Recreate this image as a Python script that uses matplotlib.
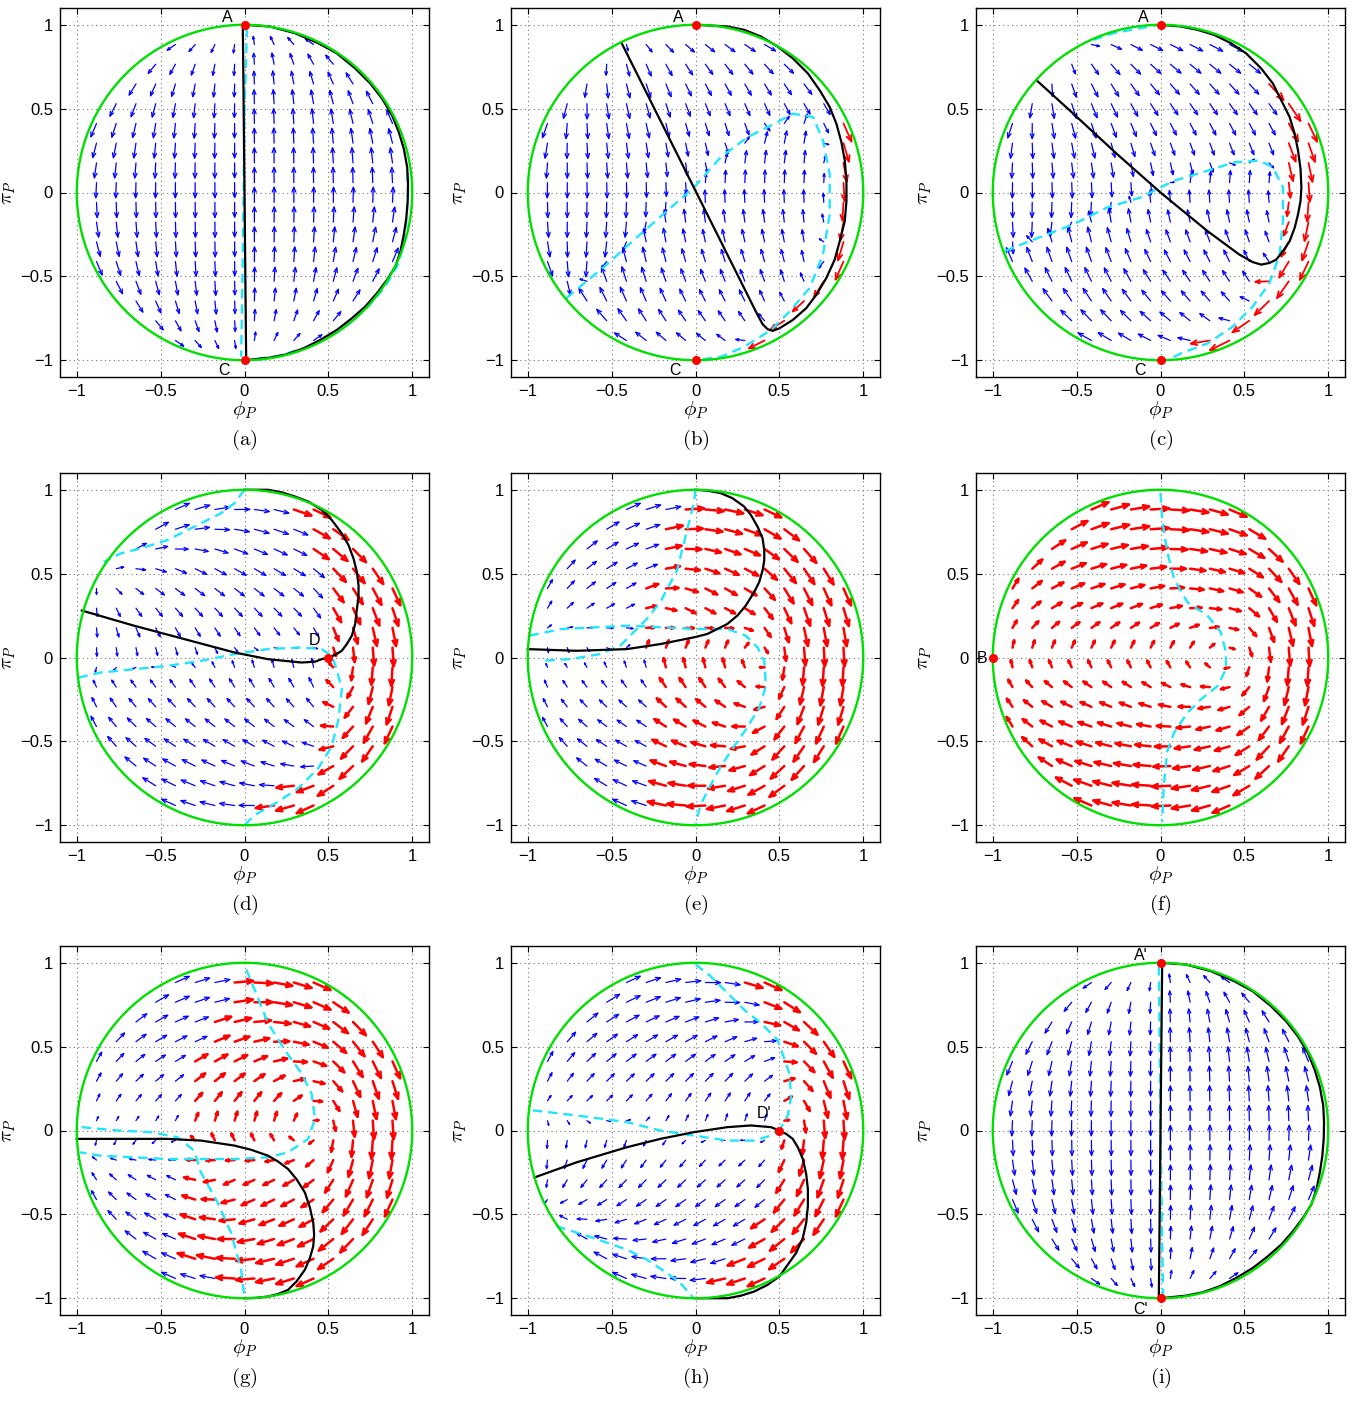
import numpy as np
import matplotlib
matplotlib.use("Agg")
import matplotlib.pyplot as plt
from matplotlib.path import Path
from matplotlib.patches import Circle
from matplotlib.collections import LineCollection

plt.rcParams["font.family"] = ["Liberation Sans", "DejaVu Sans"]
plt.rcParams["mathtext.fontset"] = "cm"

# ---------------------------------------------------------------- data
GRID = np.linspace(-1, 1, 18)
TICKS = [-1, -0.5, 0, 0.5, 1]
TICK_LABELS = ["\u22121", "\u22120.5", "0", "0.5", "1"]
CAPTIONS = ["(a)", "(b)", "(c)", "(d)", "(e)", "(f)", "(g)", "(h)", "(i)"]

# field parameters per panel: (k, q0, qr, xr, ql, xl, delta, p)
PAR_A = (0.0, 1.0, 0.0, 0.0, 0.0, 0.0, 0.03, 3)
PAR_B = (0.6, 0.8, 0.0, 0.0, 1.0, 0.0, 0.06, 6)
PAR_C = (1.0, 0.8, 0.0, 0.0, 1.0, 0.0, 0.06, 6)
PAR_D = (3.0, 1.0, 3.0, 0.3, 0.0, 0.0, 0.15, 4)
PAR_E = (2.5, 0.7, 5.0, 0.3, 0.0, 0.0, 0.20, 4)
PAR_F = (2.5, 0.3, 5.0, 0.45, 0.0, 0.0, 0.20, 4)
PAR_G = (2.5, 0.6, 5.0, 0.4, 0.0, 0.0, 0.20, 4)
PAR_H = (2.5, 0.8, 4.0, 0.4, 0.0, 0.0, 0.20, 4)
PAR_I = (0.0, 1.0, 0.0, 0.0, 0.0, 0.0, 0.03, 3)

# ---- (a)
CYAN_A = [[(0.015, 0.98), (0.0, 0.5), (-0.005, 0.0), (-0.012, -0.5), (-0.02, -0.98)],
          [(0.97, 0.12), (0.975, 0.0), (0.96, -0.25), (0.92, -0.42), (0.84, -0.56), (0.72, -0.7),
           (0.56, -0.83), (0.38, -0.92), (0.2, -0.975), (0.05, -0.995)]]
BLACK_A = [[(-0.01, 1.0), (0.01, -1.0)],
           [(0.0, 1.0), (0.15, 0.99), (0.3, 0.95), (0.44, 0.89), (0.55, 0.83), (0.66, 0.74),
            (0.75, 0.65), (0.82, 0.56), (0.88, 0.46), (0.92, 0.36), (0.95, 0.26), (0.97, 0.15),
            (0.975, 0.05), (0.973, -0.05), (0.965, -0.15), (0.95, -0.25), (0.93, -0.35),
            (0.9, -0.44), (0.85, -0.52), (0.79, -0.6), (0.72, -0.68), (0.64, -0.75),
            (0.55, -0.82), (0.45, -0.88), (0.35, -0.93), (0.25, -0.965), (0.15, -0.985),
            (0.0, -1.0)]]
POS_A = [[(0.0, 1.5), (1.5, 1.5), (1.5, -1.5), (0.0, -1.5)]]
RED_A = [[(0.9, 0.12), (1.1, 0.12), (1.1, -0.32), (0.9, -0.32)]]
DOTS_A = [(0.0, 1.0), (0.0, -1.0)]
LABELS_A = ["A", "C"]
LABEL_XY_A = [(-0.1, 1.045), (-0.12, -1.06)]

# ---- (b)
CYAN_B = [[(-0.77, -0.63), (-0.53, -0.43), (-0.33, -0.25), (-0.17, -0.11), (-0.01, 0.03),
           (0.15, 0.21), (0.31, 0.33), (0.47, 0.41), (0.58, 0.47), (0.7, 0.45), (0.76, 0.31),
           (0.8, 0.11), (0.8, -0.13), (0.76, -0.37), (0.68, -0.57), (0.56, -0.71), (0.45, -0.82),
           (0.29, -0.92), (0.15, -0.98), (0.0, -1.0)]]
BLACK_B = [[(-0.44, 0.89), (0.0, 0.01), (0.37, -0.73), (0.4, -0.785), (0.43, -0.815),
            (0.46, -0.825), (0.5, -0.81), (0.58, -0.76), (0.66, -0.69), (0.72, -0.61),
            (0.78, -0.51), (0.83, -0.4), (0.86, -0.29), (0.89, -0.17), (0.9, -0.05),
            (0.9, 0.07), (0.89, 0.19), (0.87, 0.3), (0.84, 0.41), (0.8, 0.51), (0.74, 0.61),
            (0.67, 0.71), (0.58, 0.8), (0.49, 0.87), (0.39, 0.93), (0.29, 0.97), (0.19, 0.99),
            (0.0, 1.0)]]
POS_B = [CYAN_B[0] + [(0.0, -1.5), (-1.5, -1.5), (-1.5, -1.0), (-1.0, -0.82)]]
RED_B = [[(0.45, 1.1), (0.47, 0.87), (0.62, 0.76), (0.8, 0.5), (0.83, 0.0), (0.8, -0.45),
          (0.6, -0.68), (0.38, -0.85), (0.22, -0.92), (0.2, -1.1), (1.1, -1.1), (1.1, 1.1)]]
DOTS_B = [(0.0, 1.0), (0.0, -1.0)]
LABELS_B = ["A", "C"]
LABEL_XY_B = [(-0.1, 1.045), (-0.12, -1.06)]

# ---- (c)
CYAN_C = [[(-0.93, -0.35), (-0.78, -0.29), (-0.52, -0.19), (-0.32, -0.09), (-0.12, -0.03),
           (0.08, 0.07), (0.28, 0.13), (0.44, 0.18), (0.59, 0.19), (0.67, 0.15), (0.73, 0.03),
           (0.73, -0.17), (0.71, -0.37), (0.65, -0.54), (0.55, -0.68), (0.43, -0.8),
           (0.28, -0.9), (0.12, -0.96), (0.04, -1.0)],
          [(-0.4, 0.91), (-0.28, 0.95), (-0.12, 0.98), (0.0, 1.0)]]
BLACK_C = [[(-0.74, 0.67), (-0.52, 0.47), (-0.26, 0.23), (0.0, 0.0), (0.28, -0.23),
            (0.47, -0.37), (0.55, -0.415), (0.6, -0.43), (0.65, -0.42), (0.69, -0.4),
            (0.73, -0.35), (0.77, -0.29), (0.8, -0.21), (0.82, -0.13), (0.835, -0.05),
            (0.84, 0.03), (0.835, 0.14), (0.82, 0.25), (0.8, 0.35), (0.77, 0.45), (0.72, 0.55),
            (0.67, 0.65), (0.6, 0.74), (0.51, 0.83), (0.42, 0.89), (0.32, 0.94), (0.22, 0.97),
            (0.12, 0.99), (0.0, 1.0)]]
POS_C = [CYAN_C[0] + [(0.0, -1.5), (-1.5, -1.5), (-1.5, -0.4)]]
RED_C = [[(0.45, 1.1), (0.47, 0.87), (0.57, 0.72), (0.7, 0.52), (0.7, -0.4), (0.6, -0.62),
          (0.42, -0.8), (0.22, -0.92), (0.2, -1.1), (1.1, -1.1), (1.1, 1.1)]]
DOTS_C = [(0.0, 1.0), (0.0, -1.0)]
LABELS_C = ["A", "C"]
LABEL_XY_C = [(-0.1, 1.045), (-0.12, -1.06)]

# ---- (d)
CYAN_D = [[(0.0, 1.0), (-0.06, 0.92), (-0.14, 0.86), (-0.26, 0.8), (-0.34, 0.76), (-0.46, 0.7),
           (-0.62, 0.65), (-0.74, 0.62), (-0.84, 0.57)],
          [(-0.99, -0.12), (-0.86, -0.09), (-0.66, -0.07), (-0.46, -0.05), (-0.26, -0.02),
           (-0.06, 0.02), (0.14, 0.05), (0.34, 0.06), (0.46, 0.05), (0.52, 0.01), (0.55, -0.07),
           (0.58, -0.19), (0.56, -0.37), (0.52, -0.53), (0.44, -0.66), (0.32, -0.78),
           (0.2, -0.86), (0.06, -0.94), (0.0, -1.0)]]
BLACK_D = [[(-0.97, 0.28), (-0.66, 0.19), (-0.36, 0.11), (-0.06, 0.03), (0.14, -0.01),
            (0.34, -0.03), (0.42, -0.025), (0.46, -0.01), (0.5, 0.0), (0.54, 0.015),
            (0.58, 0.04), (0.61, 0.08), (0.64, 0.13), (0.66, 0.2), (0.67, 0.29), (0.68, 0.36),
            (0.68, 0.43), (0.67, 0.51), (0.65, 0.59), (0.62, 0.67), (0.58, 0.74), (0.52, 0.82),
            (0.46, 0.88), (0.38, 0.93), (0.3, 0.96), (0.22, 0.985), (0.14, 1.0), (0.0, 1.0)]]
POS_D = [[(0.0, 1.5)] + CYAN_D[0] + [(-1.5, 0.75), (-1.5, 1.5)],
         [(-1.5, -0.12)] + CYAN_D[1] + [(0.0, -1.5), (-1.5, -1.5)]]
RED_D = [[(0.25, 1.1), (0.25, 0.85), (0.35, 0.8), (0.35, 0.58), (0.47, 0.55), (0.47, -0.6),
          (0.36, -0.7), (0.25, -0.8), (0.12, -0.9), (0.1, -1.1), (1.1, -1.1), (1.1, 1.1)]]
DOTS_D = [(0.5, 0.0)]
LABELS_D = ["D"]
LABEL_XY_D = [(0.42, 0.1)]

# ---- (e)
CYAN_E = [[(0.0, 1.0), (-0.01, 0.92), (-0.05, 0.76), (-0.11, 0.52), (-0.21, 0.33),
           (-0.29, 0.23), (-0.37, 0.15), (-0.45, 0.07), (-0.57, 0.02), (-0.75, -0.01),
           (-0.93, -0.02)],
          [(-0.99, 0.13), (-0.8, 0.17), (-0.6, 0.18), (-0.4, 0.19), (-0.2, 0.18), (0.0, 0.17),
           (0.19, 0.17), (0.3, 0.13), (0.37, 0.06), (0.41, -0.02), (0.42, -0.17), (0.38, -0.3),
           (0.3, -0.43), (0.23, -0.53), (0.15, -0.65), (0.08, -0.78), (0.03, -0.88),
           (0.0, -0.99)]]
BLACK_E = [[(-1.0, 0.05), (-0.71, 0.04), (-0.41, 0.05), (-0.21, 0.08), (-0.01, 0.12),
            (0.07, 0.14), (0.13, 0.17), (0.19, 0.2), (0.25, 0.25), (0.3, 0.31), (0.35, 0.39),
            (0.38, 0.45), (0.4, 0.52), (0.41, 0.58), (0.41, 0.64), (0.4, 0.71), (0.37, 0.78),
            (0.33, 0.85), (0.29, 0.9), (0.22, 0.95), (0.15, 0.98), (0.07, 0.995), (0.0, 1.0)]]
POS_E = [[(0.0, 1.5), (0.0, 1.0), (-0.01, 0.92), (-0.05, 0.76), (-0.11, 0.52), (-0.21, 0.33),
          (-0.29, 0.23), (-0.33, 0.19), (-0.4, 0.19), (-0.6, 0.18), (-0.8, 0.17), (-0.99, 0.13),
          (-1.5, 0.13), (-1.5, 1.5)],
         [(-1.5, -0.02), (-0.93, -0.02), (-0.75, -0.01), (-0.57, 0.02), (-0.45, 0.07),
          (-0.37, 0.15), (-0.33, 0.19), (-0.2, 0.18), (0.0, 0.17), (0.19, 0.17), (0.3, 0.13),
          (0.37, 0.06), (0.41, -0.02), (0.42, -0.17), (0.38, -0.3), (0.3, -0.43), (0.23, -0.53),
          (0.15, -0.65), (0.08, -0.78), (0.03, -0.88), (0.0, -0.99), (0.0, -1.5), (-1.5, -1.5)]]
RED_E = [[(-0.1, 1.1), (-0.1, 0.85), (-0.22, 0.8), (-0.22, 0.55), (-0.34, 0.5), (-0.34, 0.0),
          (-0.24, -0.05), (-0.24, -0.8), (-0.2, -1.1), (1.1, -1.1), (1.1, 1.1)]]
DOTS_E = []
LABELS_E = []
LABEL_XY_E = []

# ---- (f)
CYAN_F = [[(0.0, 0.98), (0.01, 0.82), (0.04, 0.63), (0.08, 0.47), (0.16, 0.33), (0.28, 0.25),
           (0.36, 0.15), (0.39, 0.03), (0.39, -0.07), (0.34, -0.17), (0.24, -0.25), (0.16, -0.33),
           (0.08, -0.45), (0.04, -0.56), (0.02, -0.76), (0.01, -0.98)]]
BLACK_F = []
POS_F = [[(0.0, 1.5)] + CYAN_F[0] + [(0.0, -1.5), (-1.5, -1.5), (-1.5, 1.5)]]
RED_F = [[(-1.2, -1.2), (1.2, -1.2), (1.2, 1.2), (-1.2, 1.2)]]
DOTS_F = [(-1.0, 0.0)]
LABELS_F = ["B"]
LABEL_XY_F = [(-1.065, -0.005)]

# ---- (g)
CYAN_G = [[(0.01, 0.96), (0.06, 0.84), (0.14, 0.64), (0.24, 0.48), (0.34, 0.34), (0.4, 0.22),
           (0.42, 0.07), (0.38, -0.05), (0.26, -0.13), (0.14, -0.16), (-0.06, -0.17),
           (-0.26, -0.17), (-0.46, -0.17), (-0.66, -0.16), (-0.86, -0.15), (-0.98, -0.13)],
          [(-0.97, 0.02), (-0.76, 0.0), (-0.56, -0.01), (-0.4, -0.04), (-0.3, -0.12),
           (-0.26, -0.25), (-0.16, -0.43), (-0.08, -0.61), (-0.02, -0.83), (0.0, -1.0)]]
BLACK_G = [[(-1.0, -0.05), (-0.76, -0.05), (-0.46, -0.05), (-0.26, -0.06), (-0.06, -0.09),
            (0.04, -0.115), (0.14, -0.15), (0.2, -0.185), (0.26, -0.23), (0.31, -0.29),
            (0.36, -0.37), (0.39, -0.46), (0.41, -0.55), (0.415, -0.62), (0.41, -0.69),
            (0.39, -0.76), (0.36, -0.83), (0.31, -0.9), (0.26, -0.95), (0.2, -0.975),
            (0.14, -0.99), (0.07, -0.998), (0.0, -1.0)]]
POS_G = [[(0.0, 1.5), (0.01, 0.96), (0.06, 0.84), (0.14, 0.64), (0.24, 0.48), (0.34, 0.34),
          (0.4, 0.22), (0.42, 0.07), (0.38, -0.05), (0.26, -0.13), (0.14, -0.16), (-0.06, -0.17),
          (-0.28, -0.17), (-0.3, -0.12), (-0.4, -0.04), (-0.56, -0.01), (-0.76, 0.0),
          (-0.97, 0.02), (-1.5, 0.02), (-1.5, 1.5)],
         [(-1.5, -0.13), (-0.98, -0.13), (-0.86, -0.15), (-0.66, -0.16), (-0.46, -0.17),
          (-0.28, -0.17), (-0.26, -0.25), (-0.16, -0.43), (-0.08, -0.61), (-0.02, -0.83),
          (0.0, -1.0), (0.0, -1.5), (-1.5, -1.5)]]
RED_G = [[(-0.1, 1.1), (-0.1, 0.78), (-0.22, 0.72), (-0.22, 0.55), (-0.34, 0.5), (-0.34, -0.8),
          (-0.24, -0.85), (-0.1, -0.9), (-0.1, -1.1), (1.1, -1.1), (1.1, 1.1)]]
DOTS_G = []
LABELS_G = []
LABEL_XY_G = []

# ---- (h)
CYAN_H = [[(0.0, 0.99), (0.09, 0.92), (0.19, 0.82), (0.29, 0.72), (0.39, 0.64), (0.49, 0.54),
           (0.56, 0.34), (0.57, 0.2), (0.55, 0.09), (0.5, 0.0)],
          [(-0.97, 0.12), (-0.71, 0.09), (-0.41, 0.05), (-0.21, 0.0), (-0.01, -0.03),
           (0.19, -0.06), (0.35, -0.06), (0.45, -0.03), (0.5, 0.0)],
          [(-0.83, -0.57), (-0.61, -0.64), (-0.41, -0.71), (-0.29, -0.77), (-0.17, -0.85),
           (-0.09, -0.91), (-0.01, -1.0)]]
BLACK_H = [[(-0.96, -0.28), (-0.71, -0.19), (-0.41, -0.1), (-0.21, -0.05), (-0.01, -0.01),
            (0.19, 0.02), (0.33, 0.03), (0.45, 0.02), (0.5, 0.0), (0.54, -0.02), (0.58, -0.05),
            (0.61, -0.1), (0.64, -0.17), (0.66, -0.26), (0.67, -0.35), (0.67, -0.45),
            (0.66, -0.55), (0.64, -0.64), (0.6, -0.73), (0.55, -0.8), (0.5, -0.87),
            (0.43, -0.92), (0.35, -0.96), (0.27, -0.985), (0.19, -1.0), (0.0, -1.0)]]
POS_H = [[(0.0, 1.5)] + CYAN_H[0] + [(0.45, -0.03), (0.35, -0.06), (0.19, -0.06), (-0.01, -0.03),
                                     (-0.21, 0.0), (-0.41, 0.05), (-0.71, 0.09), (-0.97, 0.12),
                                     (-1.5, 0.12), (-1.5, 1.5)],
         [(-1.5, -0.57)] + CYAN_H[2] + [(0.0, -1.5), (-1.5, -1.5)]]
RED_H = [[(0.25, 1.1), (0.25, 0.85), (0.36, 0.8), (0.36, 0.58), (0.47, 0.55), (0.47, -0.45),
          (0.36, -0.5), (0.36, -0.7), (0.24, -0.72), (0.24, -0.83), (0.12, -0.85),
          (0.12, -1.1), (1.1, -1.1), (1.1, 1.1)]]
DOTS_H = [(0.5, 0.0)]
LABELS_H = ["D'"]
LABEL_XY_H = [(0.41, 0.1)]

# ---- (i)
CYAN_I = [[(-0.01, 0.98), (-0.005, 0.5), (0.0, 0.0), (0.008, -0.5), (0.015, -0.98)]]
BLACK_I = [[(0.01, 1.0), (-0.01, -1.0)], BLACK_A[1]]
POS_I = [[(0.0, 1.5), (1.5, 1.5), (1.5, -1.5), (0.0, -1.5)]]
RED_I = [[(0.9, 0.12), (1.1, 0.12), (1.1, -0.32), (0.9, -0.32)]]
DOTS_I = [(0.0, 1.0), (0.0, -1.0)]
LABELS_I = ["A'", "C'"]
LABEL_XY_I = [(-0.12, 1.045), (-0.12, -1.07)]

PANELS = [
    (CYAN_A, BLACK_A, POS_A, RED_A, PAR_A, DOTS_A, LABELS_A, LABEL_XY_A),
    (CYAN_B, BLACK_B, POS_B, RED_B, PAR_B, DOTS_B, LABELS_B, LABEL_XY_B),
    (CYAN_C, BLACK_C, POS_C, RED_C, PAR_C, DOTS_C, LABELS_C, LABEL_XY_C),
    (CYAN_D, BLACK_D, POS_D, RED_D, PAR_D, DOTS_D, LABELS_D, LABEL_XY_D),
    (CYAN_E, BLACK_E, POS_E, RED_E, PAR_E, DOTS_E, LABELS_E, LABEL_XY_E),
    (CYAN_F, BLACK_F, POS_F, RED_F, PAR_F, DOTS_F, LABELS_F, LABEL_XY_F),
    (CYAN_G, BLACK_G, POS_G, RED_G, PAR_G, DOTS_G, LABELS_G, LABEL_XY_G),
    (CYAN_H, BLACK_H, POS_H, RED_H, PAR_H, DOTS_H, LABELS_H, LABEL_XY_H),
    (CYAN_I, BLACK_I, POS_I, RED_I, PAR_I, DOTS_I, LABELS_I, LABEL_XY_I),
]

# red-arrow style per panel (length, linewidth): long/thin in (b),(c), short/bold elsewhere
RED_STYLE = [(0.11, 1.6), (0.14, 1.3), (0.14, 1.3), (0.11, 1.8), (0.11, 1.8),
             (0.11, 1.8), (0.11, 1.8), (0.11, 1.8), (0.11, 1.6)]


# ---------------------------------------------------------------- helpers
def build_field(cyan, pos, par):
    k, q0, qr, xr, ql, xl, delta, p = par
    X, Y = np.meshgrid(GRID, GRID)
    x, y = X.ravel(), Y.ravel()
    r = np.hypot(x, y)
    keep = r < 1.0
    x, y, r = x[keep], y[keep], r[keep]
    pts = np.stack([x, y], 1)
    segs = []
    for c in cyan:
        c = np.asarray(c, float)
        for p0, p1 in zip(c[:-1], c[1:]):
            if np.hypot(*p0) > 0.95 and np.hypot(*p1) > 0.95:
                continue
            segs.append((p0, p1))
    segs = np.array(segs)
    P0, D = segs[:, 0], segs[:, 1] - segs[:, 0]
    rel = pts[:, None, :] - P0[None]
    t = np.clip((rel * D[None]).sum(-1) / (D ** 2).sum(-1)[None], 0, 1)
    diff = rel - t[..., None] * D[None]
    d = np.sqrt((diff ** 2).sum(-1)).min(1)
    inside = np.zeros(len(x), bool)
    for poly in pos:
        inside |= Path(np.asarray(poly, float)).contains_points(pts)
    sd = np.where(inside, d, -d)
    M = q0 + qr * np.maximum(0, x - xr) + ql * np.maximum(0, xl - x)
    Q = np.tanh(sd / delta) * M
    P = k * y
    nx, ny = x / np.maximum(r, 1e-9), y / np.maximum(r, 1e-9)
    vn = P * nx + Q * ny
    w = r ** p
    U = P - w * vn * nx
    V = Q - w * vn * ny
    return x, y, U, V


def arrow_segments(x, y, ux, uy, length):
    tx, ty = x + ux * length, y + uy * length
    h = 0.34 * length
    a = np.deg2rad(22)
    bx, by = -ux, -uy
    h1x = tx + h * (bx * np.cos(a) - by * np.sin(a))
    h1y = ty + h * (bx * np.sin(a) + by * np.cos(a))
    h2x = tx + h * (bx * np.cos(-a) - by * np.sin(-a))
    h2y = ty + h * (bx * np.sin(-a) + by * np.cos(-a))
    segs = []
    for i in range(len(x)):
        segs.append([(x[i], y[i]), (tx[i], ty[i])])
        segs.append([(h1x[i], h1y[i]), (tx[i], ty[i]), (h2x[i], h2y[i])])
    return segs


# ---------------------------------------------------------------- figure
W, H = 1355, 1402
fig = plt.figure(figsize=(W / 100, H / 100), dpi=100)
LEFTS = [60, 511, 976]
TOPS = [8, 473, 946]
AW, AH = 369, 369

for idx, (cyan, black, pos, red, par, dots, labels, label_xy) in enumerate(PANELS):
    row, col = divmod(idx, 3)
    l, t = LEFTS[col], TOPS[row]
    ax = fig.add_axes([l / W, 1 - (t + AH) / H, AW / W, AH / H])
    ax.set_xlim(-1.1, 1.1)
    ax.set_ylim(-1.1, 1.1)
    ax.set_xticks(TICKS)
    ax.set_yticks(TICKS)
    ax.set_xticklabels(TICK_LABELS)
    ax.set_yticklabels(TICK_LABELS)
    ax.tick_params(direction="in", top=True, right=True, length=4, width=0.8,
                   labelsize=12, pad=5)
    ax.grid(True, linestyle=(0, (1, 3)), color="0.45", linewidth=0.8)
    ax.set_axisbelow(True)
    for s in ax.spines.values():
        s.set_linewidth(1.0)
    ax.set_xlabel(r"$\phi_P$", fontsize=15, labelpad=0)
    ax.set_ylabel(r"$\pi_P$", fontsize=15, labelpad=2)

    x, y, U, V = build_field(cyan, pos, par)
    mag = np.hypot(U, V)
    ref = np.percentile(mag, 80)
    scale = np.clip((mag / ref) ** 0.5, 0.25, 1.0)
    ux, uy = U / np.maximum(mag, 1e-12), V / np.maximum(mag, 1e-12)
    is_red = np.zeros(len(x), bool)
    for poly in red:
        is_red |= Path(np.asarray(poly, float)).contains_points(np.stack([x, y], 1))
    rl, rw = RED_STYLE[idx]
    for sel, color, lw, L in [(~is_red, "#0000ff", 0.9, 0.09), (is_red, "#ff0000", rw, rl)]:
        if sel.sum() == 0:
            continue
        segs = arrow_segments(x[sel], y[sel], ux[sel], uy[sel], L * scale[sel])
        ax.add_collection(LineCollection(segs, colors=color, linewidths=lw,
                                         capstyle="round", joinstyle="round", zorder=2))

    for c in cyan:
        c = np.asarray(c)
        ax.plot(c[:, 0], c[:, 1], color="#1fe6ff", lw=1.7, ls=(0, (4, 2.5)), zorder=3)
    for b in black:
        b = np.asarray(b)
        ax.plot(b[:, 0], b[:, 1], color="black", lw=1.6, zorder=4)
    ax.add_patch(Circle((0, 0), 1.0, fill=False, edgecolor="#00e000", lw=1.7, zorder=5))
    for (dx, dy) in dots:
        ax.plot([dx], [dy], "o", color="red", ms=5.5, zorder=6)
    for lab, (lx, ly) in zip(labels, label_xy):
        ax.text(lx, ly, lab, fontsize=11.5, ha="center", va="center", zorder=7)

    cx = (l + AW / 2) / W
    fig.text(cx, 1 - (t + AH + 63) / H, r"$\mathrm{" + CAPTIONS[idx] + "}$",
             fontsize=15, ha="center", va="center")

fig.savefig("out.png", dpi=100)
